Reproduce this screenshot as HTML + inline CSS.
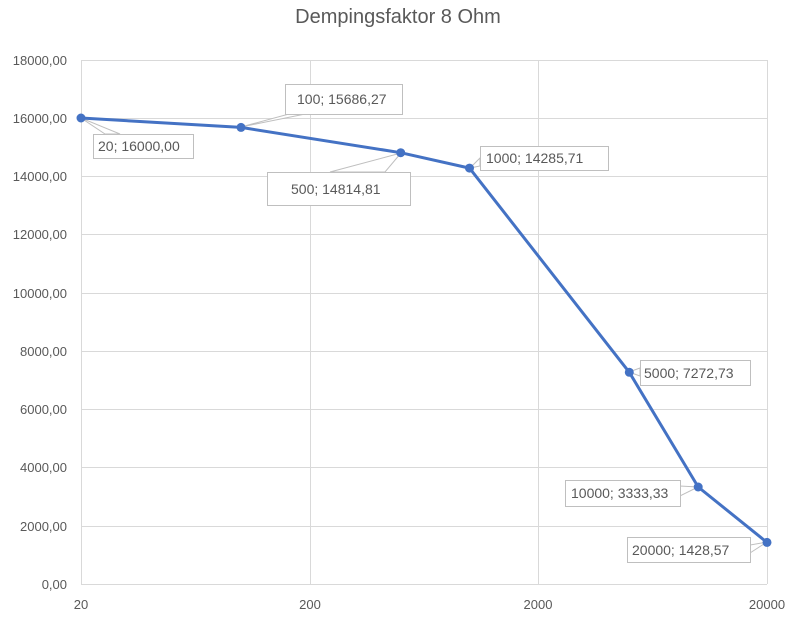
<!DOCTYPE html>
<html><head><meta charset="utf-8"><style>
body{margin:0;background:#fff}
svg text{font-family:"Liberation Sans",sans-serif;fill:#595959}
</style></head><body>
<svg width="796" height="621" viewBox="0 0 796 621" xmlns="http://www.w3.org/2000/svg">
<rect width="796" height="621" fill="#fff"/>
<text x="398" y="23" font-size="20" text-anchor="middle">Dempingsfaktor 8 Ohm</text>
<g stroke="#d9d9d9" stroke-width="1">
<line x1="81" y1="60.5" x2="767" y2="60.5"/>
<line x1="81" y1="118.5" x2="767" y2="118.5"/>
<line x1="81" y1="176.5" x2="767" y2="176.5"/>
<line x1="81" y1="234.5" x2="767" y2="234.5"/>
<line x1="81" y1="293.5" x2="767" y2="293.5"/>
<line x1="81" y1="351.5" x2="767" y2="351.5"/>
<line x1="81" y1="409.5" x2="767" y2="409.5"/>
<line x1="81" y1="467.5" x2="767" y2="467.5"/>
<line x1="81" y1="526.5" x2="767" y2="526.5"/>
<line x1="81" y1="584.5" x2="767" y2="584.5"/>
<line x1="81.5" y1="60" x2="81.5" y2="584"/>
<line x1="310.5" y1="60" x2="310.5" y2="584"/>
<line x1="538.5" y1="60" x2="538.5" y2="584"/>
<line x1="767.5" y1="60" x2="767.5" y2="584"/>
</g>
<g font-size="13" text-anchor="end">
<text x="67" y="65">18000,00</text>
<text x="67" y="123">16000,00</text>
<text x="67" y="181">14000,00</text>
<text x="67" y="239">12000,00</text>
<text x="67" y="298">10000,00</text>
<text x="67" y="356">8000,00</text>
<text x="67" y="414">6000,00</text>
<text x="67" y="472">4000,00</text>
<text x="67" y="531">2000,00</text>
<text x="67" y="589">0,00</text>
</g>
<g font-size="13" text-anchor="middle">
<text x="81" y="609">20</text>
<text x="310" y="609">200</text>
<text x="538" y="609">2000</text>
<text x="767" y="609">20000</text>
</g>
<g fill="#fff" stroke="#bfbfbf" stroke-width="1">
<polygon points="81,118 105,134 120,134"/>
<polygon points="241,127 300,111 320,111"/>
<polygon points="401,153 330,172 385,172"/>
<polygon points="470,168 480,158 480,166"/>
<polygon points="629,372 640,368 640,376"/>
<polygon points="698,487 680,486 680,496"/>
<polygon points="767,542 750,545 750,553"/>
<rect x="93.5" y="134.5" width="100" height="24"/>
<rect x="285.5" y="84.5" width="117" height="30"/>
<rect x="267.5" y="172.5" width="143" height="33"/>
<rect x="480.5" y="146.5" width="128" height="24"/>
<rect x="640.5" y="360.5" width="110" height="25"/>
<rect x="565.5" y="480.5" width="115" height="26"/>
<rect x="627.5" y="537.5" width="123" height="25"/>
</g>
<g font-size="14">
<text x="98" y="151">20; 16000,00</text>
<text x="297" y="104">100; 15686,27</text>
<text x="291" y="194">500; 14814,81</text>
<text x="486" y="163">1000; 14285,71</text>
<text x="644" y="378">5000; 7272,73</text>
<text x="571" y="498">10000; 3333,33</text>
<text x="632" y="555">20000; 1428,57</text>
</g>
<polyline fill="none" stroke="#4472c4" stroke-width="3" stroke-linejoin="round" points="81,118 241,127.4 400.7,152.7 469.5,168.1 629.3,372.3 698.2,487 767,542.4"/>
<g fill="#4472c4">
<circle cx="81" cy="118" r="4.5"/><circle cx="241" cy="127.4" r="4.5"/><circle cx="400.7" cy="152.7" r="4.5"/><circle cx="469.5" cy="168.1" r="4.5"/><circle cx="629.3" cy="372.3" r="4.5"/><circle cx="698.2" cy="487" r="4.5"/><circle cx="767" cy="542.4" r="4.5"/>
</g>
</svg>
</body></html>
